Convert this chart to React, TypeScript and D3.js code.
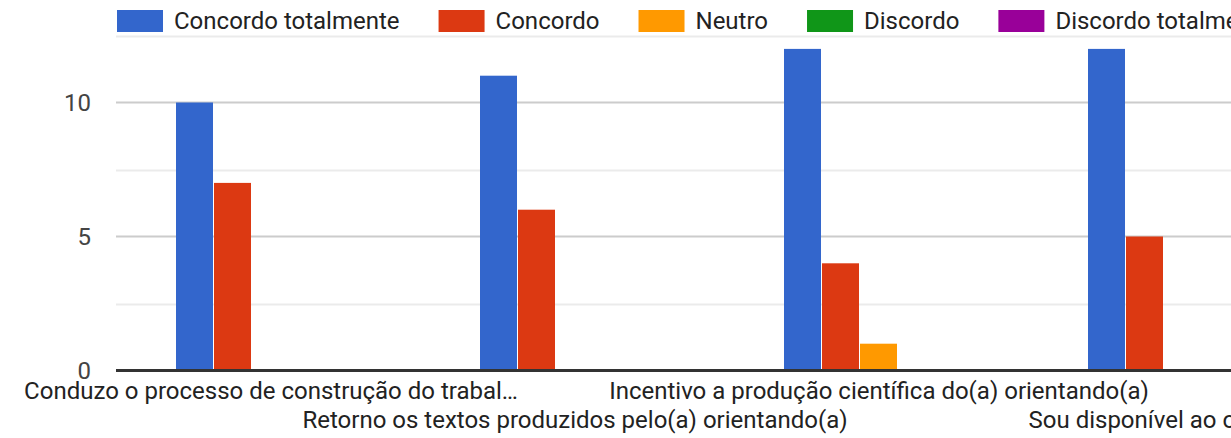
import { useEffect, useRef } from "react";
import * as d3 from "d3";

const categories = [
  "Conduzo o processo de construção do trabal…",
  "Retorno os textos produzidos pelo(a) orientando(a)",
  "Incentivo a produção científica do(a) orientando(a)",
  "Sou disponível ao orientando",
];
const seriesNames = ["Concordo totalmente", "Concordo", "Neutro", "Discordo", "Discordo totalmente"];
const seriesColors = ["#3366cc", "#dc3912", "#ff9900", "#109618", "#990099"];
const concordoTotalmente = [10, 11, 12, 12];
const concordo = [7, 6, 4, 5];
const neutro = [0, 0, 1, 0];
const discordo = [0, 0, 0, 0];
const discordoTotalmente = [0, 0, 0, 0];
const yTicks = [0, 5, 10];
const yMinorTicks = [2.5, 7.5, 12.5];

const W = 1231;
const H = 438;

export default function App() {
  const ref = useRef<SVGSVGElement | null>(null);

  useEffect(() => {
    document.body.style.margin = "0";
    document.body.style.overflow = "hidden";
    const svg = d3.select(ref.current);
    svg.selectAll("*").remove();
    const font = "Roboto, Arial, sans-serif";

    const series = [concordoTotalmente, concordo, neutro, discordo, discordoTotalmente];
    const plotLeft = 116;

    const y = d3.scaleLinear().domain([0, 12.5]).range([370.5, 35.5]);
    const x0 = d3.scaleBand<string>().domain(categories).range([119, 119 + 304 * categories.length]);
    const groupW = 190;
    const x1 = d3.scaleBand<string>().domain(seriesNames).range([0, groupW]);

    // gridlines
    svg.append("g")
      .selectAll("line")
      .data(yMinorTicks)
      .join("line")
      .attr("x1", plotLeft).attr("x2", W)
      .attr("y1", d => Math.round(y(d)) + 0.5).attr("y2", d => Math.round(y(d)) + 0.5)
      .attr("stroke", "#ebebeb").attr("stroke-width", 2);
    svg.append("g")
      .selectAll("line")
      .data(yTicks.filter(t => t !== 0))
      .join("line")
      .attr("x1", plotLeft).attr("x2", W)
      .attr("y1", d => y(d)).attr("y2", d => y(d))
      .attr("stroke", "#cccccc").attr("stroke-width", 2);

    // y tick labels
    svg.append("g")
      .selectAll("text")
      .data(yTicks)
      .join("text")
      .attr("x", 91)
      .attr("y", d => y(d))
      .attr("dy", "0.35em")
      .attr("text-anchor", "end")
      .attr("font-family", font)
      .attr("font-size", 24)
      .attr("fill", "#444")
      .text(d => d);

    // bars
    const groups = svg.append("g")
      .selectAll("g")
      .data(categories)
      .join("g")
      .attr("transform", d => `translate(${x0(d)! + x0.bandwidth() / 2 - groupW / 2},0)`);
    groups.selectAll("rect")
      .data((_, i) => seriesNames.map((s, k) => ({ s, k, v: series[k][i] })).filter(d => d.v > 0))
      .join("rect")
      .attr("x", d => x1(d.s)!)
      .attr("width", x1.bandwidth() - 1)
      .attr("y", d => y(d.v))
      .attr("height", d => y(0) - y(d.v))
      .attr("fill", d => seriesColors[d.k]);

    // baseline
    svg.append("line")
      .attr("x1", plotLeft).attr("x2", W)
      .attr("y1", y(0)).attr("y2", y(0))
      .attr("stroke", "#333").attr("stroke-width", 3);

    // x labels, alternating rows
    svg.append("g")
      .selectAll("text")
      .data(categories)
      .join("text")
      .attr("x", d => x0(d)! + x0.bandwidth() / 2)
      .attr("y", (_, i) => (i % 2 === 0 ? 399 : 428))
      .attr("text-anchor", "middle")
      .attr("font-family", font)
      .attr("font-size", 24)
      .attr("fill", "#222")
      .text(d => d);

    // legend
    const legend = svg.append("g");
    let lx = 117;
    seriesNames.forEach((name, k) => {
      legend.append("rect")
        .attr("x", lx).attr("y", 10)
        .attr("width", 46).attr("height", 22)
        .attr("fill", seriesColors[k]);
      const t = legend.append("text")
        .attr("x", lx + 57).attr("y", 21)
        .attr("dy", "0.35em")
        .attr("font-family", font)
        .attr("font-size", 24)
        .attr("fill", "#222")
        .text(name);
      const w = (t.node() as SVGTextElement).getComputedTextLength();
      lx = lx + 57 + w + 39;
    });
  }, []);

  return <svg ref={ref} width={W} height={H} style={{ display: "block", background: "#fff" }} />;
}
